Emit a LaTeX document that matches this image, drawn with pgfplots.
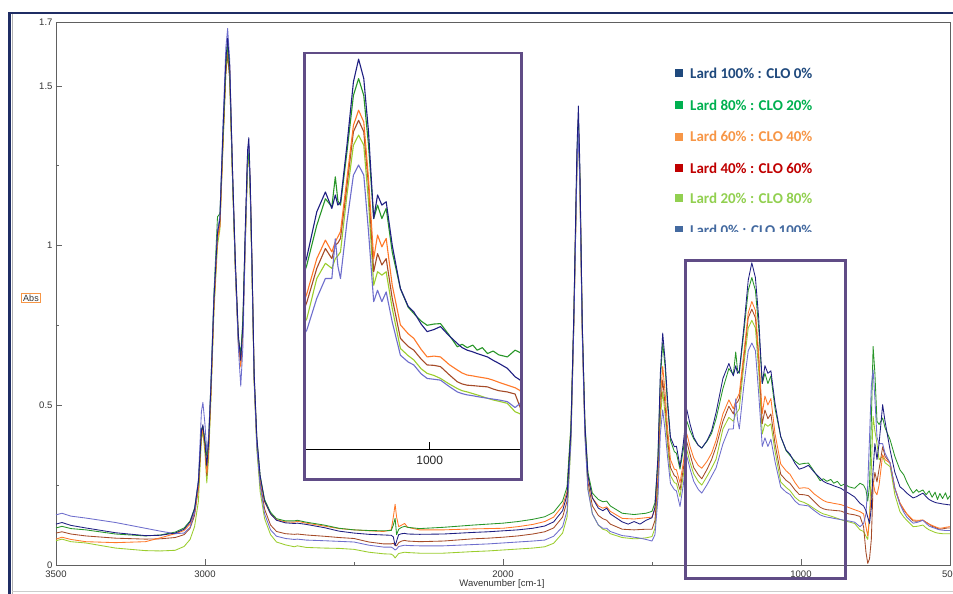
\documentclass[border=0pt]{standalone}
\usepackage{fontspec}
\setmainfont{Liberation Sans}
\newfontfamily\legfont{Carlito}
\usepackage{pgfplots}
\usepackage{pgfplotstable}
\pgfplotsset{compat=1.18}

\definecolor{cNavy}{RGB}{30,30,130}
\definecolor{cGreen}{RGB}{40,150,40}
\definecolor{cOrange}{RGB}{255,120,40}
\definecolor{cBrown}{RGB}{165,75,40}
\definecolor{cYG}{RGB}{155,205,45}
\definecolor{cPurple}{RGB}{110,110,205}
\definecolor{frameP}{RGB}{96,76,134}
\definecolor{lA}{RGB}{31,73,125}
\definecolor{lB}{RGB}{0,176,80}
\definecolor{lC}{RGB}{247,150,70}
\definecolor{lD}{RGB}{192,0,0}
\definecolor{lE}{RGB}{146,208,80}
\definecolor{lF}{RGB}{68,106,160}
\definecolor{outerNavy}{RGB}{31,45,100}

\pgfplotstableread{
wn nv gr or br yg pu
3500 0.128 0.116 0.081 0.100 0.076 0.157
3480 0.133 0.121 0.087 0.104 0.081 0.162
3450 0.124 0.114 0.080 0.097 0.073 0.153
3400 0.116 0.110 0.073 0.091 0.069 0.147
3300 0.101 0.097 0.070 0.084 0.053 0.133
3200 0.092 0.091 0.073 0.081 0.045 0.115
3150 0.093 0.094 0.085 0.082 0.044 0.106
3100 0.100 0.103 0.098 0.086 0.046 0.098
3070 0.112 0.116 0.108 0.095 0.058 0.100
3050 0.135 0.138 0.128 0.115 0.080 0.118
3035 0.175 0.178 0.165 0.155 0.120 0.165
3022 0.260 0.262 0.245 0.240 0.200 0.270
3012 0.420 0.425 0.405 0.415 0.395 0.480
3007 0.439 0.434 0.420 0.430 0.415 0.509
3000 0.380 0.390 0.370 0.375 0.350 0.440
2994 0.310 0.340 0.288 0.280 0.257 0.355
2988 0.380 0.390 0.360 0.360 0.330 0.400
2980 0.560 0.570 0.540 0.540 0.520 0.570
2970 0.830 0.850 0.810 0.810 0.790 0.840
2958 1.040 1.090 1.020 1.030 1.000 1.050
2950 1.080 1.100 1.060 1.060 1.050 1.090
2940 1.350 1.330 1.320 1.310 1.300 1.370
2930 1.580 1.560 1.560 1.540 1.540 1.620
2924 1.650 1.630 1.620 1.600 1.600 1.680
2917 1.560 1.540 1.560 1.520 1.520 1.580
2908 1.250 1.230 1.240 1.220 1.220 1.250
2898 0.950 0.930 0.940 0.920 0.920 0.930
2888 0.720 0.710 0.710 0.690 0.700 0.680
2880 0.640 0.660 0.620 0.630 0.650 0.560
2873 0.750 0.770 0.730 0.740 0.740 0.680
2865 1.050 1.030 1.000 1.020 0.990 1.000
2857 1.300 1.260 1.270 1.280 1.250 1.290
2853 1.338 1.300 1.310 1.300 1.280 1.320
2848 1.200 1.170 1.180 1.170 1.150 1.180
2842 0.940 0.920 0.930 0.920 0.900 0.920
2835 0.600 0.590 0.590 0.580 0.570 0.580
2826 0.400 0.395 0.390 0.380 0.360 0.370
2815 0.280 0.280 0.270 0.260 0.230 0.250
2800 0.200 0.205 0.198 0.175 0.145 0.160
2780 0.160 0.165 0.160 0.125 0.095 0.110
2760 0.140 0.145 0.142 0.105 0.072 0.090
2730 0.132 0.138 0.135 0.098 0.063 0.083
2700 0.130 0.138 0.134 0.096 0.057 0.080
2690 0.131 0.140 0.137 0.097 0.060 0.081
2660 0.127 0.134 0.131 0.094 0.055 0.078
2600 0.117 0.125 0.122 0.090 0.053 0.076
2550 0.106 0.115 0.114 0.086 0.052 0.074
2500 0.100 0.110 0.110 0.083 0.049 0.072
2450 0.096 0.108 0.107 0.072 0.040 0.062
2400 0.094 0.107 0.105 0.066 0.035 0.056
2375 0.093 0.108 0.110 0.066 0.034 0.056
2368 0.088 0.125 0.150 0.068 0.030 0.052
2362 0.060 0.146 0.190 0.062 0.022 0.047
2357 0.075 0.095 0.150 0.060 0.028 0.050
2350 0.095 0.112 0.120 0.070 0.036 0.058
2340 0.098 0.118 0.125 0.075 0.038 0.060
2330 0.099 0.121 0.130 0.077 0.040 0.062
2320 0.097 0.118 0.118 0.075 0.039 0.061
2280 0.096 0.114 0.110 0.073 0.037 0.060
2200 0.097 0.118 0.110 0.075 0.037 0.060
2100 0.102 0.125 0.113 0.082 0.042 0.064
2050 0.104 0.128 0.114 0.084 0.044 0.066
2000 0.107 0.131 0.115 0.087 0.047 0.069
1950 0.110 0.136 0.120 0.091 0.050 0.072
1900 0.115 0.143 0.127 0.097 0.053 0.075
1860 0.122 0.151 0.136 0.104 0.057 0.078
1830 0.135 0.165 0.150 0.116 0.068 0.090
1800 0.170 0.200 0.185 0.150 0.100 0.120
1785 0.220 0.245 0.230 0.200 0.150 0.170
1772 0.420 0.440 0.430 0.410 0.380 0.390
1762 0.800 0.790 0.780 0.770 0.760 0.760
1752 1.300 1.270 1.250 1.260 1.240 1.230
1747 1.437 1.400 1.380 1.390 1.370 1.360
1742 1.250 1.220 1.200 1.210 1.190 1.180
1734 0.760 0.750 0.740 0.740 0.730 0.720
1725 0.440 0.445 0.430 0.420 0.410 0.400
1715 0.280 0.290 0.275 0.260 0.240 0.235
1700 0.210 0.225 0.210 0.185 0.160 0.160
1680 0.178 0.205 0.185 0.155 0.125 0.125
1665 0.170 0.198 0.178 0.145 0.112 0.115
1652 0.178 0.200 0.182 0.140 0.108 0.115
1640 0.160 0.185 0.168 0.128 0.098 0.105
1600 0.135 0.162 0.146 0.112 0.086 0.092
1580 0.128 0.160 0.145 0.111 0.084 0.090
1560 0.136 0.158 0.144 0.110 0.082 0.087
1540 0.128 0.160 0.146 0.111 0.083 0.084
1520 0.140 0.162 0.148 0.112 0.085 0.080
1500 0.148 0.168 0.150 0.112 0.089 0.075
1490 0.180 0.195 0.175 0.140 0.115 0.095
1480 0.340 0.330 0.300 0.270 0.240 0.210
1472 0.600 0.580 0.520 0.490 0.460 0.410
1464 0.726 0.695 0.622 0.580 0.543 0.486
1456 0.640 0.620 0.540 0.500 0.470 0.420
1448 0.520 0.500 0.430 0.400 0.375 0.340
1438 0.400 0.390 0.330 0.305 0.280 0.255
1425 0.370 0.355 0.300 0.280 0.258 0.236
1418 0.372 0.350 0.298 0.275 0.255 0.232
1406 0.308 0.300 0.257 0.235 0.214 0.183
1395 0.380 0.360 0.320 0.300 0.280 0.250
1383 0.486 0.450 0.410 0.385 0.360 0.340
1372 0.440 0.420 0.370 0.345 0.320 0.300
1360 0.400 0.395 0.335 0.305 0.285 0.262
1345 0.375 0.375 0.312 0.283 0.262 0.237
1333 0.366 0.366 0.303 0.270 0.250 0.225
1315 0.390 0.388 0.325 0.300 0.278 0.252
1300 0.420 0.412 0.350 0.330 0.303 0.278
1285 0.477 0.458 0.390 0.370 0.331 0.304
1262 0.584 0.552 0.473 0.450 0.426 0.379
1242 0.631 0.615 0.517 0.497 0.462 0.426
1227 0.592 0.596 0.489 0.473 0.450 0.426
1219 0.624 0.667 0.513 0.505 0.473 0.520
1213 0.600 0.610 0.525 0.510 0.480 0.455
1207 0.607 0.600 0.537 0.521 0.489 0.426
1192 0.742 0.726 0.663 0.647 0.624 0.560
1177 0.892 0.860 0.789 0.774 0.742 0.671
1165 0.946 0.900 0.825 0.801 0.766 0.695
1153 0.900 0.860 0.797 0.774 0.742 0.671
1142 0.774 0.742 0.663 0.647 0.608 0.537
1130 0.568 0.568 0.473 0.442 0.410 0.371
1121 0.624 0.600 0.529 0.485 0.442 0.398
1111 0.600 0.568 0.501 0.458 0.434 0.371
1101 0.608 0.592 0.521 0.473 0.442 0.394
1087 0.505 0.489 0.410 0.379 0.355 0.323
1068 0.402 0.402 0.316 0.284 0.260 0.244
1050 0.360 0.358 0.295 0.265 0.243 0.228
1037 0.347 0.343 0.284 0.256 0.233 0.221
1020 0.318 0.325 0.258 0.235 0.212 0.200
1006 0.300 0.315 0.240 0.221 0.201 0.189
990 0.305 0.318 0.242 0.220 0.196 0.187
975 0.312 0.319 0.240 0.217 0.189 0.185
955 0.290 0.292 0.222 0.198 0.176 0.170
936 0.272 0.264 0.209 0.181 0.165 0.157
925 0.262 0.270 0.202 0.176 0.160 0.153
913 0.256 0.262 0.197 0.173 0.157 0.150
900 0.252 0.268 0.195 0.172 0.153 0.148
890 0.248 0.256 0.193 0.171 0.150 0.146
878 0.244 0.262 0.191 0.170 0.146 0.144
866 0.240 0.248 0.189 0.169 0.142 0.142
853 0.232 0.254 0.185 0.164 0.138 0.140
840 0.225 0.245 0.180 0.160 0.135 0.138
820 0.213 0.240 0.173 0.157 0.130 0.134
802 0.193 0.256 0.167 0.152 0.110 0.120
790 0.185 0.250 0.160 0.120 0.105 0.130
782 0.170 0.235 0.120 0.040 0.090 0.160
776 0.150 0.200 0.090 0.005 0.080 0.250
770 0.130 0.250 0.150 0.020 0.150 0.400
764 0.180 0.450 0.220 0.080 0.300 0.560
758 0.300 0.684 0.260 0.250 0.465 0.611
752 0.380 0.600 0.230 0.290 0.420 0.520
745 0.330 0.450 0.220 0.260 0.380 0.400
738 0.380 0.440 0.250 0.300 0.330 0.380
726 0.502 0.460 0.345 0.370 0.340 0.380
718 0.450 0.430 0.330 0.340 0.320 0.350
701 0.360 0.392 0.319 0.320 0.308 0.319
685 0.290 0.340 0.240 0.240 0.220 0.240
668 0.245 0.298 0.194 0.194 0.167 0.190
655 0.235 0.282 0.175 0.172 0.150 0.165
645 0.225 0.260 0.160 0.160 0.140 0.150
634 0.217 0.240 0.150 0.148 0.130 0.140
624 0.210 0.225 0.141 0.138 0.120 0.131
612 0.214 0.236 0.140 0.137 0.121 0.133
605 0.218 0.228 0.140 0.138 0.122 0.135
591 0.225 0.235 0.141 0.140 0.125 0.140
580 0.214 0.220 0.133 0.134 0.116 0.130
570 0.205 0.232 0.128 0.128 0.110 0.122
560 0.200 0.212 0.124 0.121 0.106 0.118
550 0.196 0.228 0.120 0.118 0.102 0.115
542 0.194 0.205 0.117 0.114 0.100 0.112
534 0.193 0.224 0.115 0.112 0.099 0.110
525 0.191 0.208 0.116 0.113 0.098 0.109
515 0.190 0.226 0.118 0.115 0.098 0.108
508 0.189 0.206 0.119 0.116 0.098 0.108
500 0.188 0.217 0.120 0.116 0.098 0.108
}\spectra

\begin{document}
\begin{tikzpicture}[x=1pt,y=1pt]
\clip (0,0) rectangle (953,594);
\fill[white] (0,0) rectangle (953,594);
% outer frame
\draw[outerNavy, line width=2.5pt] (9.5,-5) -- (9.5,581.2) -- (960,581.2);
\draw[gray!60, line width=0.6pt] (12,-5) -- (12,579.5);
\draw[gray!40, line width=0.6pt] (12,3) -- (953,3);

\begin{axis}[
  at={(56pt,29pt)}, anchor=south west,
  width=894pt, height=543pt, scale only axis,
  xmin=500, xmax=3500, x dir=reverse,
  ymin=0, ymax=1.7,
  xtick={3500,3000,2000,1000,500},
  minor xtick={2500,1500},
  ytick={0,0.5,1,1.5,1.7},
  minor ytick={0.25,0.75,1.25},
  tick pos=left, tick align=inside,
  major tick length=6pt, minor tick length=3pt,
  every tick/.style={gray!80!black, line width=0.6pt},
  axis line style={gray!75!black, line width=0.8pt},
  tick label style={font=\fontsize{9.5}{10}\selectfont, text=black!80},
  xticklabel style={yshift=-2pt},
  /pgf/number format/assume math mode=true,
  /pgf/number format/1000 sep={},
  every axis plot/.append style={line width=0.85pt, line join=round},
]
\addplot[cYG, no marks] table[x=wn, y=yg] {\spectra};
\addplot[cBrown, no marks] table[x=wn, y=br] {\spectra};
\addplot[cOrange, no marks] table[x=wn, y=or] {\spectra};
\addplot[cGreen, no marks] table[x=wn, y=gr] {\spectra};
\addplot[cPurple, no marks] table[x=wn, y=pu] {\spectra};
\addplot[cNavy, no marks] table[x=wn, y=nv] {\spectra};
\end{axis}

\node[font=\fontsize{9.5}{10}\selectfont, text=black!80] at (502,9.5) {Wavenumber [cm-1]};
\node[draw=lC, line width=0.7pt, inner sep=1.5pt, font=\fontsize{9}{10}\selectfont, text=black!80] at (31,296) {Abs};

% zoom box
\draw[frameP, line width=3pt] (685,15.7) rectangle (845.7,333);

% inset
\fill[white] (304.7,114.5) rectangle (521.7,541);
\begin{axis}[
  at={(306pt,144.7pt)}, anchor=south west,
  width=214.7pt, height=397.3pt, scale only axis,
  xmin=789, xmax=1287, x dir=reverse,
  ymin=0.021, ymax=0.963,
  axis x line*=bottom, axis y line=none,
  x axis line style={-, black, line width=0.8pt},
  xtick={1000}, ytick=\empty,
  tick align=inside, major tick length=7pt,
  every tick/.style={black, line width=0.8pt},
  tick label style={font=\fontsize{12}{13}\selectfont, text=black!85},
  xticklabel style={yshift=-3pt},
  /pgf/number format/assume math mode=true,
  /pgf/number format/1000 sep={},
  every axis plot/.append style={line width=1.1pt, line join=round},
]
\addplot[cYG, no marks] table[x=wn, y=yg] {\spectra};
\addplot[cBrown, no marks] table[x=wn, y=br] {\spectra};
\addplot[cOrange, no marks] table[x=wn, y=or] {\spectra};
\addplot[cGreen, no marks] table[x=wn, y=gr] {\spectra};
\addplot[cPurple, no marks] table[x=wn, y=pu] {\spectra};
\addplot[cNavy, no marks] table[x=wn, y=nv] {\spectra};
\end{axis}
\draw[frameP, line width=2.8pt] (304.7,114.5) rectangle (521.7,541);

% legend
\begin{scope}
\clip (660,362) rectangle (900,560);
\foreach \yy/\cc/\tt in {521/lA/{Lard 100\% : CLO 0\%},
                          489/lB/{Lard 80\% : CLO 20\%},
                          457.3/lC/{Lard 60\% : CLO 40\%},
                          425.7/lD/{Lard 40\% : CLO 60\%},
                          395.7/lE/{Lard 20\% : CLO 80\%},
                          364/lF/{Lard 0\% : CLO 100\%}} {
  \fill[\cc] (675,\yy-4) rectangle (683,\yy+4);
  \node[anchor=west, inner sep=0pt, text=\cc, font=\legfont\bfseries\fontsize{15}{16}\selectfont] at (690,\yy) {\tt};
}
\end{scope}
\end{tikzpicture}
\end{document}
